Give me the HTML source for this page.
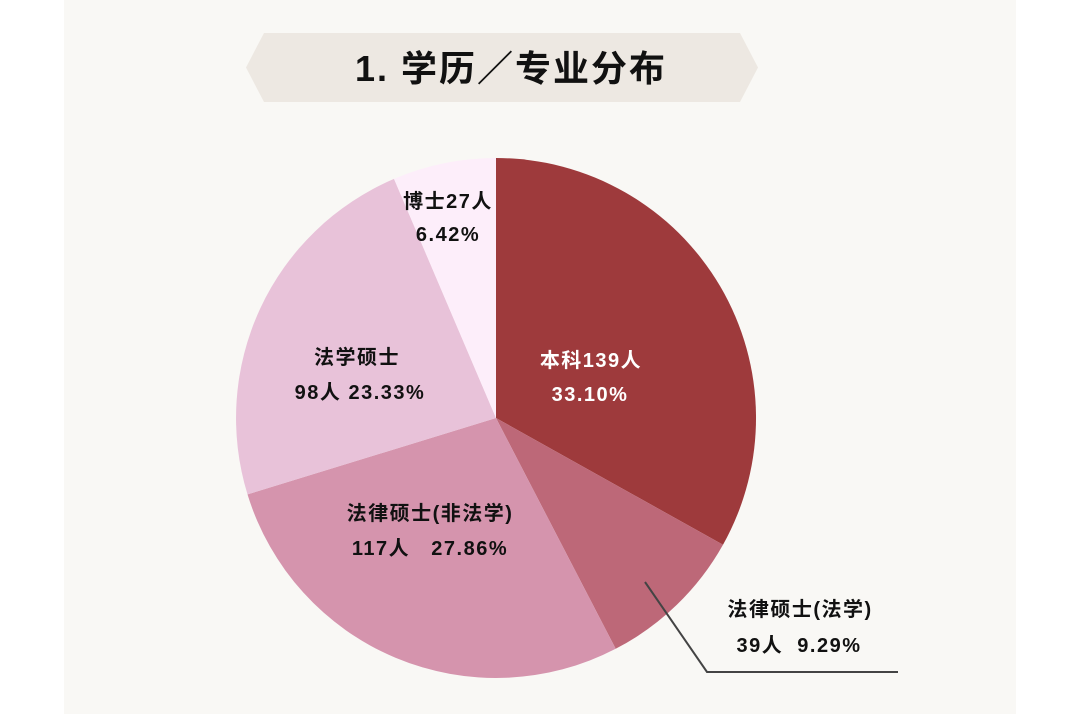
<!DOCTYPE html>
<html><head><meta charset="utf-8"><style>
html,body{margin:0;padding:0;background:#fff;}
svg{display:block;}
text{font-family:"Liberation Sans","Noto Sans CJK SC",sans-serif;font-weight:bold;}
</style></head><body>
<svg width="1080" height="714" viewBox="0 0 1080 714" xmlns="http://www.w3.org/2000/svg">
<rect x="0" y="0" width="1080" height="714" fill="#ffffff"/>
<rect x="64" y="0" width="952" height="714" fill="#f9f8f5"/>
<polygon points="246,67.5 264,33 740,33 758,67.5 740,102 264,102" fill="#ede8e2"/>
<text x="511" y="81" font-size="36" text-anchor="middle" fill="#111" letter-spacing="2">1. 学历／专业分布</text>
<g>
<path d="M496,418 L496,158 A260,260 0 0 1 723,544.8 Z" fill="#9e3a3c"/>
<path d="M496,418 L723,544.8 A260,260 0 0 1 615.7,648.8 Z" fill="#bd6878"/>
<path d="M496,418 L615.7,648.8 A260,260 0 0 1 247.5,494.4 Z" fill="#d594ad"/>
<path d="M496,418 L247.5,494.4 A260,260 0 0 1 394,178.9 Z" fill="#e8c2d9"/>
<path d="M496,418 L394,178.9 A260,260 0 0 1 496,158 Z" fill="#fdeefa"/>
</g>
<polyline points="645,582 707,672 898,672" fill="none" stroke="#444" stroke-width="2"/>
<g font-size="20" text-anchor="middle" letter-spacing="1.5">
<text x="448" y="208" fill="#111">博士27人</text>
<text x="448" y="241" fill="#111">6.42%</text>
<text x="591" y="367" fill="#fff">本科139人</text>
<text x="590" y="401" fill="#fff">33.10%</text>
<text x="357" y="364" fill="#111">法学硕士</text>
<text x="360" y="399" fill="#111">98人  23.33%</text>
<text x="430" y="520" fill="#111">法律硕士(非法学)</text>
<text x="430" y="555" fill="#111" xml:space="preserve">117人   27.86%</text>
<text x="800" y="616" fill="#111">法律硕士(法学)</text>
<text x="799" y="652" fill="#111" xml:space="preserve">39人  9.29%</text>
</g>
</svg>
</body></html>
